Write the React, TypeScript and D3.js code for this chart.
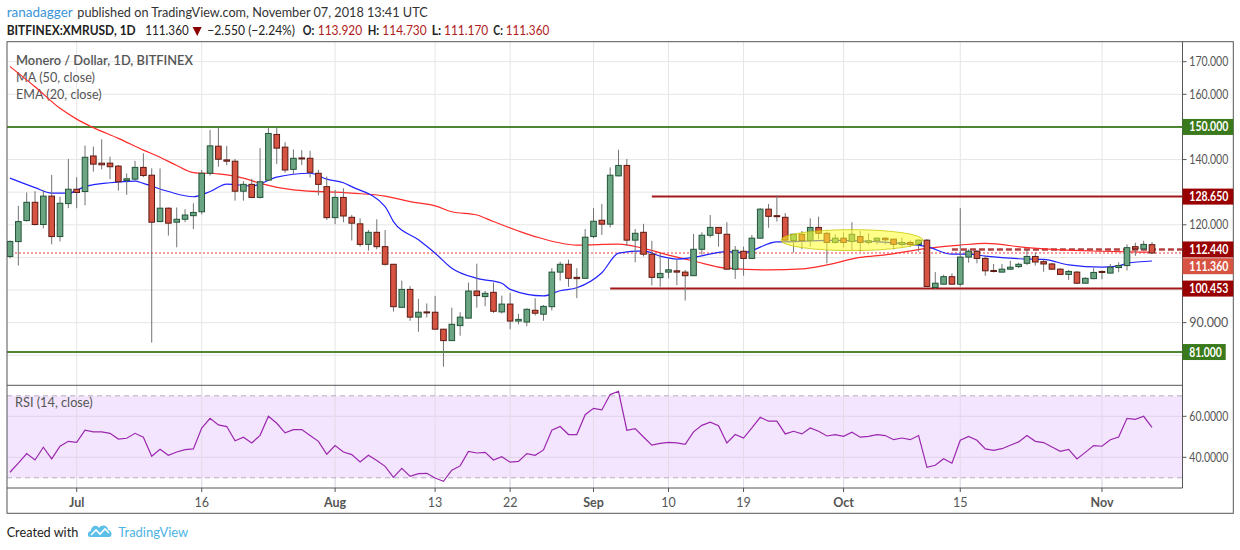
import React from 'react';
import * as d3 from 'd3';

// ---------- DATA ----------
const startDate = new Date(2018, 5, 23);
const endDate = new Date(2018, 10, 7);

const opens = [110.3,114.85,121.3,126.9,120.1,128.8,116.4,126.5,130.9,130.2,141.1,138.9,138.9,138.0,133.6,134.0,137.6,135.2,121.0,125.1,120.8,121.7,122.8,124.0,135.8,144.1,139.9,139.5,130.3,132.4,128.4,133.7,147.7,143.8,137.0,140.5,140.4,135.8,131.7,122.2,128.4,122.3,120.3,114.0,117.7,113.3,107.9,94.7,100.2,91.7,93.3,93.2,88.0,84.5,89.1,91.4,99.7,98.0,99.3,93.3,95.7,90.5,90.2,93.8,92.6,94.9,105.5,107.9,103.9,103.6,116.4,121.4,120.2,135.0,138.2,115.3,117.7,111.0,103.8,105.5,105.9,105.5,104.4,112.5,116.8,119.2,117.1,106.4,111.9,109.7,115.9,124.8,122.8,122.3,115.2,117.1,115.2,119.2,117.4,114.6,115.9,114.9,116.4,114.6,115.1,115.9,115.6,114.0,114.6,114.0,115.3,100.8,101.8,104.1,101.8,110.1,111.9,109.7,106.0,105.5,106.4,107.2,108.2,110.3,108.7,108.0,106.4,104.8,105.5,102.1,103.5,105.7,105.2,106.9,107.5,113.3,112.6,113.92];
const highs = [115.2,125.8,129.9,130.3,130.7,135.3,128.6,140.2,134.6,144.3,144.0,146.2,140.9,138.3,135.8,139.6,141.9,137.3,137.3,125.3,125.3,124.8,126.6,136.8,149.1,150.1,144.2,140.2,133.4,134.1,143.5,149.8,150.1,145.3,143.1,142.9,142.7,136.8,134.8,130.7,131.2,123.0,122.0,118.4,121.7,118.4,108.0,102.9,101.2,97.3,95.9,98.2,88.1,94.6,93.2,102.3,108.1,99.7,102.3,98.3,99.2,92.7,94.4,97.5,95.4,106.7,108.7,109.3,106.7,118.7,125.1,126.4,137.6,143.0,140.2,118.7,120.3,115.1,111.5,109.7,109.3,106.2,117.2,117.7,123.0,119.3,120.8,113.5,113.3,116.9,125.1,126.4,129.0,123.6,117.2,118.1,122.0,122.5,117.9,117.1,117.7,120.8,118.1,117.4,116.1,116.2,115.7,116.1,115.2,115.6,115.6,105.5,104.7,105.1,125.1,112.5,112.3,110.4,108.0,108.0,109.0,108.4,112.5,111.5,109.3,108.3,106.7,106.2,105.9,103.9,106.7,106.0,108.0,108.5,114.0,114.5,115.1,114.73];
const lows = [109.7,107.5,121.0,119.8,118.9,114.0,114.9,125.1,125.1,126.0,136.3,137.0,134.0,130.5,129.2,133.5,134.6,83.9,120.8,116.7,113.1,120.8,118.7,123.2,135.1,137.8,138.3,127.4,127.4,128.2,128.1,133.5,138.6,136.0,135.6,138.3,134.5,129.0,121.5,120.2,120.8,115.2,113.3,112.1,112.5,107.5,93.4,94.6,90.6,87.2,91.6,88.0,76.5,84.4,86.0,91.3,94.6,95.0,93.0,92.8,88.0,89.5,88.9,92.2,90.6,93.7,102.9,101.0,97.5,103.5,115.9,116.9,119.2,134.9,113.5,108.5,110.3,101.4,101.0,103.6,101.5,96.8,104.3,110.8,116.1,113.3,106.3,103.4,104.4,109.6,115.8,119.1,121.0,115.2,111.5,112.5,113.3,115.6,108.2,114.3,113.1,112.2,111.8,114.0,114.0,114.0,112.5,113.3,113.3,111.8,101.1,100.3,101.7,101.7,101.1,108.4,108.2,104.4,105.4,105.4,106.2,106.7,107.7,107.5,105.6,106.2,104.6,103.1,101.8,102.0,103.3,103.3,105.1,105.5,106.0,110.5,112.1,111.17];
const closes = [114.9,121.0,126.9,120.1,128.8,116.4,126.6,130.9,129.9,140.7,138.6,138.4,137.8,133.2,134.1,137.6,135.1,120.8,125.1,120.5,121.7,123.0,123.8,135.8,144.2,140.1,139.5,130.3,132.4,128.4,133.2,148.0,143.5,136.8,140.4,140.3,136.1,132.4,122.2,128.4,122.7,120.5,114.0,117.7,113.3,107.9,94.9,100.2,91.7,93.2,93.0,88.0,84.5,89.5,91.7,99.7,98.3,99.0,93.5,95.7,90.5,91.0,94.1,92.9,95.0,105.5,107.9,103.6,103.5,116.2,121.1,120.2,135.2,138.2,115.3,117.4,111.0,103.9,105.1,106.2,105.5,104.4,112.5,116.8,119.2,117.4,106.4,112.2,109.7,115.9,124.8,122.6,122.5,115.3,117.1,115.2,119.2,117.4,114.6,115.9,114.6,117.1,114.6,115.1,115.9,115.4,114.0,114.6,114.0,115.3,101.1,102.1,104.1,101.8,110.1,111.9,109.7,105.9,105.7,106.4,107.0,107.9,110.3,108.6,108.0,106.4,104.8,105.7,102.1,103.6,105.4,105.4,107.0,107.5,113.0,112.6,114.0,111.36];

const rsiValues = [32.7,37.2,41.8,38.7,44.9,39.2,45.4,47.8,47.3,53.2,52.4,52.4,51.7,48.9,49.3,51.7,49.8,40.5,43.9,41.0,42.6,43.7,44.1,54.3,59.0,55.8,55.0,48.1,49.8,47.0,50.7,60.0,56.6,51.9,53.5,53.5,50.6,47.8,41.5,45.7,42.6,41.3,37.7,41.0,38.4,35.6,30.2,34.6,30.7,32.0,32.2,29.9,28.3,33.7,35.8,42.9,42.1,42.4,38.7,40.3,37.6,38.0,41.8,41.0,43.6,53.2,55.0,51.1,51.1,60.8,63.9,63.1,70.6,72.2,53.2,54.0,49.9,45.9,46.8,47.3,47.0,46.3,52.4,55.6,57.1,55.4,47.0,51.1,49.4,54.3,59.5,57.6,57.6,51.4,52.7,51.4,54.3,52.7,50.4,51.1,50.2,52.2,49.8,50.2,51.1,50.6,48.6,49.4,48.6,50.6,35.1,36.1,39.3,37.1,48.3,50.2,48.3,44.1,43.4,44.2,45.9,47.5,50.6,47.8,47.2,45.0,42.9,43.9,39.2,42.4,45.7,45.4,48.6,49.9,59.0,58.5,60.0,54.6];

const ma50Idx = [0,3,6,8,10,13,16,18,20,22,25,28,30,34,41,45,48,51,53,56,58,61,63,68,73,76,79,82,86,91,95,98,102,105,110,114,117,122,126,131,137];
const ma50Vals = [168.5,162.3,155.7,152.4,149.8,146.5,142.9,140.7,138.2,136.0,135.6,134.3,132.7,130.7,129.7,128.8,127.1,125.8,124.0,123.0,121.0,118.1,116.4,113.8,114.1,112.8,110.7,108.9,106.7,106.2,106.5,107.7,110.0,110.8,112.8,113.8,114.3,113.0,112.3,111.9,111.6];

const ema20Idx = [0,3,5,7,9,12,15,16,19,22,24,26,29,32,36,38,40,41,45,46,49,51,53,56,59,60,64,66,68,71,73,76,78,80,82,86,88,92,93,98,104,110,113,115,117,121,124,127,131,133,134,137];
const ema20Vals = [134.3,131.4,129.7,129.7,131.7,132.9,133.4,132.7,130.2,128.6,130.2,132.5,131.9,134.6,135.8,134.0,132.9,131.7,125.6,121.0,115.4,111.3,106.7,103.6,102.1,100.2,98.2,99.8,100.7,105.3,111.3,112.0,110.4,109.5,110.0,111.8,111.5,114.8,114.8,115.2,114.8,113.3,111.0,111.0,110.4,109.6,109.4,107.7,107.0,107.4,108.2,108.9];

const priceGrid = [80,90,100,110,120,130,140,150,160,170];
const priceLabels = [170,160,140,120,90];
const rsiLabels = [60,40];

const timeTickDates = [new Date(2018,6,1),new Date(2018,6,16),new Date(2018,7,1),new Date(2018,7,13),new Date(2018,7,22),new Date(2018,8,1),new Date(2018,8,10),new Date(2018,8,19),new Date(2018,9,1),new Date(2018,9,15),new Date(2018,10,1)];
const timeTickLabels = ['Jul','16','Aug','13','22','Sep','10','19','Oct','15','Nov'];
const timeTickBold = [true,false,true,false,false,true,false,false,true,false,true];

const levelVals = [150, 81, 128.65, 100.453];
const levelStart = [startDate, startDate, new Date(2018,8,8), new Date(2018,8,3)];

const tagVals = [150, 128.65, 112.44, 111.36, 100.453, 81];
const tagKinds = ['green', 'red', 'red', 'last', 'red', 'green'];

// header pieces
const headerTexts = ['BITFINEX:XMRUSD, 1D', '111.360', '−2.550 (−2.24%)', 'O:', '113.920', 'H:', '114.730', 'L:', '111.170', 'C:', '111.360'];
const headerX = [6.7, 145.3, 207.3, 302.7, 317.7, 367.7, 382.3, 431.7, 444, 493.3, 505.7];
const headerW = [129, 43.4, 87.7, 11.5, 44.6, 11.5, 44.4, 9.5, 44.3, 9.5, 43.6];
const headerColor = ['#222', '#222', '#222', '#222', '#b01c1c', '#222', '#b01c1c', '#222', '#b01c1c', '#222', '#b01c1c'];
const headerBold = [true, false, false, true, false, true, false, true, false, true, false];

// ---------- STYLE ----------
const FONT = 'Lato, "Open Sans", sans-serif';
const UP_FILL = '#6ba583', UP_LINE = '#225437';
const DN_FILL = '#d75442', DN_LINE = '#5b1a13';
const WICK = '#737375';
const GREEN = '#3b7a1c', DARKRED = '#990000';

const L = 7, R = 1182.5, TOP = 41.7, MAIN_BOT = 385.3, RSI_BOT = 488, FRAME_R = 1233.3, FRAME_B = 513.3;

export default function App() {
  const dates = d3.timeDay.range(startDate, d3.timeDay.offset(endDate, 1));
  const x = d3.scaleTime().domain([startDate, endDate]).range([10, 1152]);
  const y = d3.scaleLinear().domain([80, 170]).range([355.3, 61.7]);
  const yr = d3.scaleLinear().domain([40, 60]).range([457.3, 416.3]);

  const ma50Line = d3.line<number>()
    .x((_, i) => x(dates[ma50Idx[i]]))
    .y((v) => y(v))
    .curve(d3.curveMonotoneX);
  const emaLine = d3.line<number>()
    .x((_, i) => x(dates[ema20Idx[i]]))
    .y((v) => y(v))
    .curve(d3.curveMonotoneX);
  const rsiLine = d3.line<number>()
    .x((_, i) => x(dates[i]))
    .y((v) => yr(v));

  const bw = 5.6;
  const lastClose = closes[closes.length - 1];

  return (
    <svg width={1240} height={550} style={{ position: 'absolute', left: 0, top: 0, background: '#fff' }} fontFamily={FONT}>
      <defs>
        <clipPath id="mainClip"><rect x={L} y={TOP} width={R - L} height={MAIN_BOT - TOP} /></clipPath>
        <clipPath id="rsiClip"><rect x={L} y={MAIN_BOT} width={R - L} height={RSI_BOT - MAIN_BOT} /></clipPath>
      </defs>
      <rect x={0} y={0} width={1240} height={550} fill="#fff" />

      {/* header */}
      <text x={6.7} y={16.5} fontSize={13.2} fill="#3a94d8" textLength={66} lengthAdjust="spacingAndGlyphs">ranadagger</text>
      <text x={77.3} y={16.5} fontSize={13.2} fill="#333" textLength={350.4} lengthAdjust="spacingAndGlyphs">published on TradingView.com, November 07, 2018 13:41 UTC</text>
      {headerTexts.map((t, i) => (
        <text key={'h' + i} x={headerX[i]} y={34.5} fontSize={12.6} fill={headerColor[i]}
          fontWeight={headerBold[i] ? 'bold' : 'normal'} textLength={headerW[i]} lengthAdjust="spacingAndGlyphs">{t}</text>
      ))}
      <path d="M192.7,27 L201.7,27 L197.2,36 Z" fill="#8b0000" />

      {/* grid */}
      {priceGrid.map((p) => (
        <line key={'g' + p} x1={L} x2={R} y1={y(p)} y2={y(p)} stroke="#e6e6e6" strokeWidth={1} />
      ))}
      {timeTickDates.map((d, i) => (
        <line key={'v' + i} x1={x(d)} x2={x(d)} y1={TOP} y2={RSI_BOT} stroke="#e6e6e6" strokeWidth={1} />
      ))}

      {/* legend */}
      <text x={16} y={64.5} fontSize={13.2} fontWeight={600} fill="#555" textLength={177} lengthAdjust="spacingAndGlyphs">Monero / Dollar, 1D, BITFINEX</text>
      <text x={16} y={81.5} fontSize={13.2} fill="#555" textLength={79} lengthAdjust="spacingAndGlyphs">MA (50, close)</text>
      <text x={16} y={98.5} fontSize={13.2} fill="#555" textLength={85.7} lengthAdjust="spacingAndGlyphs">EMA (20, close)</text>

      <g clipPath="url(#mainClip)">
        {levelVals.map((v, i) => (
          <line key={'lv' + i} x1={i < 2 ? L : x(levelStart[i])} x2={R} y1={y(v)} y2={y(v)}
            stroke={i < 2 ? GREEN : DARKRED} strokeWidth={2} strokeOpacity={0.9} />
        ))}
        <line x1={x(new Date(2018, 9, 14))} x2={R} y1={y(112.44)} y2={y(112.44)} stroke={DARKRED} strokeWidth={2.4} strokeDasharray="6,3" strokeOpacity={0.75} />
        <line x1={L} x2={R} y1={y(lastClose)} y2={y(lastClose)} stroke="#e53935" strokeWidth={1} strokeDasharray="2,2" />

        <path d={ma50Line(ma50Vals) || ''} fill="none" stroke="#ff2a2a" strokeWidth={1.2} />
        <path d={emaLine(ema20Vals) || ''} fill="none" stroke="#2222ff" strokeWidth={1.2} />

        {dates.map((d, i) => {
          const cx = x(d);
          const up = closes[i] >= opens[i];
          const top = y(Math.max(opens[i], closes[i]));
          const bot = y(Math.min(opens[i], closes[i]));
          return (
            <g key={'c' + i}>
              <line x1={cx} x2={cx} y1={y(highs[i])} y2={y(lows[i])} stroke={WICK} strokeWidth={1} />
              <rect x={cx - bw / 2} y={top} width={bw} height={Math.max(bot - top, 1)}
                fill={up ? UP_FILL : DN_FILL} stroke={up ? UP_LINE : DN_LINE} strokeWidth={1} />
            </g>
          );
        })}

        <ellipse cx={x(new Date(2018, 9, 2))} cy={y(115.3)} rx={71} ry={10.5} fill="rgba(255,255,40,0.55)" stroke="rgba(200,200,0,0.8)" strokeWidth={1} />
      </g>

      {/* RSI pane */}
      <g clipPath="url(#rsiClip)">
        <rect x={L} y={yr(70)} width={R - L} height={yr(30) - yr(70)} fill="#f3e5fd" />
        {[60, 40].map((v) => (
          <line key={'rg' + v} x1={L} x2={R} y1={yr(v)} y2={yr(v)} stroke="#e0d2ea" strokeWidth={1} />
        ))}
        {timeTickDates.map((d, i) => (
          <line key={'rv' + i} x1={x(d)} x2={x(d)} y1={MAIN_BOT} y2={RSI_BOT} stroke="#e2dbe8" strokeWidth={1} />
        ))}
        {[70, 30].map((v) => (
          <line key={'rd' + v} x1={L} x2={R} y1={yr(v)} y2={yr(v)} stroke="#b7acc0" strokeWidth={1} strokeDasharray="5,4" />
        ))}
        <path d={rsiLine(rsiValues) || ''} fill="none" stroke="#9c27b0" strokeWidth={1.2} />
      </g>
      <text x={15} y={407} fontSize={13.2} fill="#555" textLength={77.7} lengthAdjust="spacingAndGlyphs">RSI (14, close)</text>

      {/* frame */}
      <line x1={L} x2={R} y1={MAIN_BOT} y2={MAIN_BOT} stroke="#555" strokeWidth={1} />
      <line x1={L} x2={R} y1={RSI_BOT} y2={RSI_BOT} stroke="#555" strokeWidth={1} />
      <line x1={R} x2={R} y1={TOP} y2={RSI_BOT} stroke="#555" strokeWidth={1} />
      <rect x={L} y={TOP} width={FRAME_R - L} height={FRAME_B - TOP} fill="none" stroke="#555" strokeWidth={1} />

      {/* price axis */}
      {priceLabels.map((p) => (
        <g key={'pl' + p}>
          <line x1={R} x2={R + 4} y1={y(p)} y2={y(p)} stroke="#555" />
          <text x={1189.3} y={y(p) + 4.5} fontSize={12.5} fill="#555" textLength={39} lengthAdjust="spacingAndGlyphs">{p.toFixed(3)}</text>
        </g>
      ))}
      {tagVals.map((v, i) => {
        const yy = tagKinds[i] === 'last' ? y(v) + 13.2 : y(v);
        const col = tagKinds[i] === 'green' ? GREEN : tagKinds[i] === 'red' ? DARKRED : '#d75442';
        const txt = v.toFixed(3);
        const w = txt.length === 6 ? 43.2 : 50.8;
        return (
          <g key={'tag' + v}>
            <rect x={R} y={yy - 8} width={w} height={16} fill={col} />
            <text x={1189.3} y={yy + 4.5} fontSize={12.5} fontWeight="bold" fill="#fff"
              textLength={txt.length === 6 ? 32.4 : 39} lengthAdjust="spacingAndGlyphs">{txt}</text>
          </g>
        );
      })}
      {rsiLabels.map((v) => (
        <g key={'rl' + v}>
          <line x1={R} x2={R + 4} y1={yr(v)} y2={yr(v)} stroke="#555" />
          <text x={1189.3} y={yr(v) + 4.5} fontSize={12.5} fill="#555" textLength={39} lengthAdjust="spacingAndGlyphs">{v.toFixed(4)}</text>
        </g>
      ))}

      {/* time axis */}
      {timeTickDates.map((d, i) => (
        <g key={'tl' + i}>
          <line x1={x(d)} x2={x(d)} y1={RSI_BOT} y2={RSI_BOT + 4} stroke="#555" />
          <text x={x(d)} y={506.5} fontSize={12.5} textAnchor="middle" fill="#555" fontWeight={timeTickBold[i] ? 'bold' : 'normal'}>{timeTickLabels[i]}</text>
        </g>
      ))}

      {/* footer */}
      <text x={6.7} y={537} fontSize={14} fill="#222" textLength={71.6} lengthAdjust="spacingAndGlyphs">Created with</text>
      <g transform="translate(88,523)">
        <path d="M2,14 C-1,14 -1,8 3,8 C3,3 9,1 11,5 C13,1 20,2 20,7 C24,7 25,14 21,14 Z" fill="#5bbfe8" />
        <path d="M3,12 L8,7 L12,11 L17,6 L21,10" fill="none" stroke="#fff" strokeWidth={1.6} />
      </g>
      <text x={118.3} y={537} fontSize={14} fill="#4cb3e3" textLength={70} lengthAdjust="spacingAndGlyphs">TradingView</text>
    </svg>
  );
}
